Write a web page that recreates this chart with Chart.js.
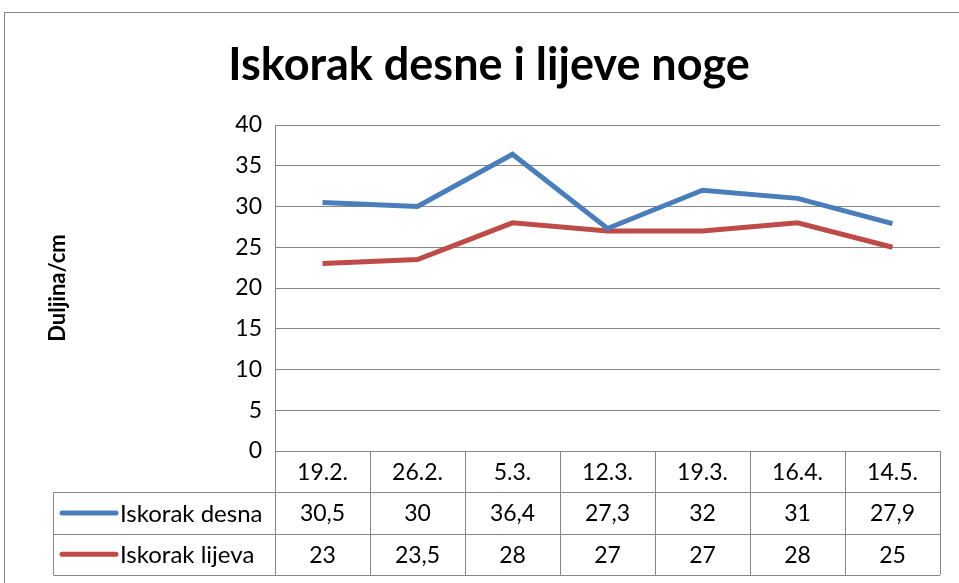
<!DOCTYPE html>
<html>
<head>
<meta charset="utf-8">
<script src="https://cdn.jsdelivr.net/npm/chart.js@4.4.0/dist/chart.umd.min.js"></script>
<style>
  html, body { margin: 0; padding: 0; background: #fff; }
  #wrap { width: 959px; height: 583px; }
</style>
</head>
<body>
<div id="wrap"><canvas id="chart" width="959" height="583"></canvas></div>
<script>
// DATA
const kategorije = ["19.2.", "26.2.", "5.3.", "12.3.", "19.3.", "16.4.", "14.5."];
const iskorakDesna = [30.5, 30, 36.4, 27.3, 32, 31, 27.9];
const iskorakLijeva = [23, 23.5, 28, 27, 27, 28, 25];
const nazivi = ["Iskorak desna", "Iskorak lijeva"];
const yTicks = [0, 5, 10, 15, 20, 25, 30, 35, 40];

const GRID = "#868686";
const FONT = "Lato, 'Open Sans', sans-serif";

// decimalni zarez kao u tablici
const fmt = v => String(v).replace(".", ",");

// OKVIR
const okvir = {
    id: "okvir",
    beforeDraw(chart) {
        const ctx = chart.ctx;
        ctx.save();
        ctx.fillStyle = "#fff";
        ctx.fillRect(0, 0, chart.width, chart.height);
        ctx.strokeStyle = GRID;
        ctx.lineWidth = 1;
        ctx.strokeRect(4.5, 12.5, 1000, 1000);
        ctx.restore();
    }
};

// TABLICA PODATAKA ispod grafa
const tablica = {
    id: "tablica",
    afterDraw(chart) {
        const ctx = chart.ctx;
        const x = chart.scales.x;
        const area = chart.chartArea;
        const rowH = 41.3;
        const top = area.bottom;
        const legLeft = 53.5;
        const colW = (x.right - x.left) / kategorije.length;
        const rows = [iskorakDesna, iskorakLijeva];
        const boje = chart.data.datasets.map(d => d.borderColor);

        ctx.save();
        ctx.strokeStyle = GRID;
        ctx.lineWidth = 1;
        ctx.beginPath();
        // horizontalne linije
        for (let r = 1; r <= 3; r++) {
            const y = Math.round(top + r * rowH) + 0.5;
            ctx.moveTo(legLeft, y);
            ctx.lineTo(x.right, y);
        }
        // vertikalne linije
        for (let i = 0; i <= kategorije.length; i++) {
            const xx = Math.round(x.left + i * colW) + 0.5;
            ctx.moveTo(xx, top);
            ctx.lineTo(xx, top + 3 * rowH);
        }
        ctx.moveTo(legLeft, top + rowH);
        ctx.lineTo(legLeft, top + 3 * rowH);
        ctx.stroke();

        ctx.fillStyle = "#000";
        ctx.font = "23px " + FONT;
        ctx.textAlign = "center";
        ctx.textBaseline = "middle";
        kategorije.forEach((k, i) => {
            ctx.fillText(k, x.getPixelForValue(i), top + rowH / 2 + 1);
        });
        rows.forEach((serija, r) => {
            const cy = top + rowH * (r + 1.5) + 1;
            ctx.font = "23px " + FONT;
            serija.forEach((v, i) => {
                ctx.fillText(fmt(v), x.getPixelForValue(i), cy);
            });
            // legenda
            ctx.strokeStyle = boje[r];
            ctx.lineWidth = 5;
            ctx.lineCap = "round";
            ctx.beginPath();
            ctx.moveTo(62, cy - 1);
            ctx.lineTo(116, cy - 1);
            ctx.stroke();
            ctx.textAlign = "left";
            ctx.font = "24px " + FONT;
            ctx.fillText(nazivi[r], 120, cy);
            ctx.textAlign = "center";
        });
        ctx.restore();
    }
};

const myChart = document.getElementById("chart");

new Chart(myChart, {
    type: "line",
    data: {
        labels: kategorije,
        datasets: [
            {
                label: nazivi[0],
                data: iskorakDesna,
                borderColor: "#4A7EBB",
                borderWidth: 5,
                pointRadius: 0,
                tension: 0
            },
            {
                label: nazivi[1],
                data: iskorakLijeva,
                borderColor: "#BE4B48",
                borderWidth: 5,
                pointRadius: 0,
                tension: 0
            }
        ]
    },
    options: {
        responsive: false,
        animation: false,
        layout: {
            padding: { left: 38, right: 19, top: 0, bottom: 132 }
        },
        plugins: {
            legend: { display: false },
            tooltip: { enabled: false },
            title: {
                display: true,
                text: "Iskorak desne i lijeve noge",
                color: "#000",
                font: { family: FONT, size: 45, weight: "bold" },
                padding: { top: 38, bottom: 33 }
            }
        },
        scales: {
            x: {
                offset: true,
                grid: { display: false },
                border: { display: false },
                ticks: { display: false },
                afterFit(s) { s.height = 0; }
            },
            y: {
                min: 0,
                max: 40,
                afterBuildTicks(s) { s.ticks = yTicks.map(v => ({ value: v })); },
                grid: { color: GRID, drawTicks: false },
                border: { display: true, color: GRID },
                ticks: {
                    color: "#000",
                    padding: 13,
                    font: { family: FONT, size: 23 }
                },
                title: {
                    display: true,
                    text: "Duljina/cm",
                    color: "#000",
                    font: { family: FONT, size: 22, weight: "bold" },
                    padding: { top: 7, bottom: 0 }
                },
                afterFit(s) { s.width = 275 - 38; }
            }
        }
    },
    plugins: [okvir, tablica]
});
</script>
</body>
</html>
